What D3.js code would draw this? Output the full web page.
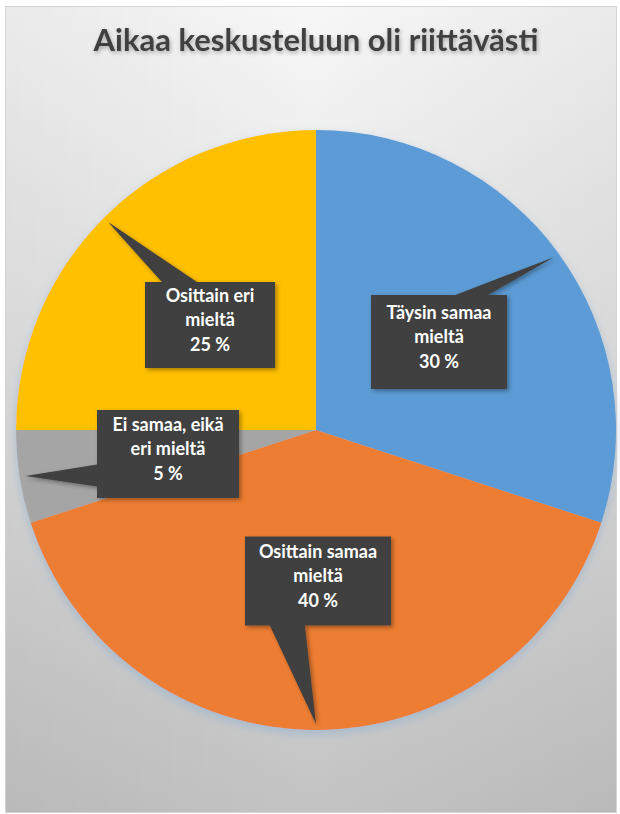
<!DOCTYPE html>
<html>
<head>
<meta charset="utf-8">
<script src="https://cdn.jsdelivr.net/npm/d3@7"></script>
<style>
  html, body { margin: 0; padding: 0; background: #fff; }
  svg { display: block; }
</style>
</head>
<body>
<svg id="chart"></svg>
<script>
// data
let title = "Aikaa keskusteluun oli riittävästi";
let categories = ["Täysin samaa mieltä", "Osittain samaa mieltä", "Ei samaa, eikä eri mieltä", "Osittain eri mieltä"];
let values = [30, 40, 5, 25];
let labelLines = [
  ["Täysin samaa", "mieltä"],
  ["Osittain samaa", "mieltä"],
  ["Ei samaa, eikä", "eri mieltä"],
  ["Osittain eri", "mieltä"]
];
let colors = ["#5B9BD5", "#ED7D31", "#A5A5A5", "#FFC000"];

// layout
let width = 620, height = 814;
let cx = 316, cy = 430, radius = 300;
// callout boxes: offset of box centre from pie centre, size, pointer edge and base span (0..1 along edge)
let callouts = [
  { dx: 123, dy: -88, w: 136, h: 94, edge: "top", b0: 0.62, b1: 0.86 },
  { dx: 2, dy: 151, w: 146, h: 89, edge: "bottom", b0: 0.17, b1: 0.41 },
  { dx: -148, dy: 24, w: 142, h: 88, edge: "left", b0: 0.62, b1: 0.87 },
  { dx: -106, dy: -105, w: 130, h: 86, edge: "top", b0: 0.13, b1: 0.40 }
];

let svg = d3.select("#chart")
  .attr("width", width)
  .attr("height", height);

let defs = svg.append("defs");
let bg = defs.append("linearGradient")
  .attr("id", "bg")
  .attr("x1", 0).attr("y1", 0).attr("x2", 0).attr("y2", 1);
bg.append("stop").attr("offset", "0%").attr("stop-color", "#f7f7f7");
bg.append("stop").attr("offset", "45%").attr("stop-color", "#e2e2e2");
bg.append("stop").attr("offset", "100%").attr("stop-color", "#c3c3c3");

let side = defs.append("linearGradient")
  .attr("id", "side")
  .attr("x1", 0).attr("y1", 0).attr("x2", 1).attr("y2", 0);
side.append("stop").attr("offset", "0%").attr("stop-color", "#000").attr("stop-opacity", 0.05);
side.append("stop").attr("offset", "50%").attr("stop-color", "#000").attr("stop-opacity", 0);
side.append("stop").attr("offset", "100%").attr("stop-color", "#000").attr("stop-opacity", 0.05);

let glow = defs.append("filter").attr("id", "glow")
  .attr("x", "-10%").attr("y", "-10%").attr("width", "120%").attr("height", "120%");
glow.append("feDropShadow")
  .attr("dx", 0).attr("dy", 4).attr("stdDeviation", 5)
  .attr("flood-color", "#8fb0d0").attr("flood-opacity", 0.6);

let boxShadow = defs.append("filter").attr("id", "boxShadow")
  .attr("x", "-20%").attr("y", "-20%").attr("width", "140%").attr("height", "140%");
boxShadow.append("feDropShadow")
  .attr("dx", 2).attr("dy", 2).attr("stdDeviation", 2)
  .attr("flood-color", "#000").attr("flood-opacity", 0.35);

let textShadow = defs.append("filter").attr("id", "textShadow")
  .attr("x", "-5%").attr("y", "-20%").attr("width", "110%").attr("height", "140%");
textShadow.append("feDropShadow")
  .attr("dx", 1).attr("dy", 2).attr("stdDeviation", 2)
  .attr("flood-color", "#000").attr("flood-opacity", 0.3);

// chart area
svg.append("rect")
  .attr("x", 5.5).attr("y", 6.5)
  .attr("width", 611).attr("height", 806)
  .attr("fill", "url(#bg)")
  .attr("stroke", "#d4d4d4");
svg.append("rect")
  .attr("x", 6).attr("y", 7)
  .attr("width", 610).attr("height", 805)
  .attr("fill", "url(#side)");

svg.append("text")
  .attr("x", cx)
  .attr("y", 51)
  .attr("text-anchor", "middle")
  .attr("font-family", "Lato, 'Open Sans', sans-serif")
  .attr("font-weight", "bold")
  .attr("font-size", 31)
  .attr("fill", "#3f3f3f")
  .attr("filter", "url(#textShadow)")
  .text(title);

let pie = d3.pie().sort(null).value(d => d);
let arcs = pie(values);
let arc = d3.arc().innerRadius(0).outerRadius(radius);
let tipArc = d3.arc().innerRadius(radius * 0.97).outerRadius(radius * 0.99);

let g = svg.append("g")
  .attr("transform", "translate(" + cx + "," + cy + ")");

g.append("g")
  .attr("filter", "url(#glow)")
  .selectAll("path")
  .data(arcs)
  .enter().append("path")
  .attr("d", arc)
  .attr("fill", (d, i) => colors[i]);

// callouts
function calloutPath(c, tip) {
  let x0 = c.dx - c.w / 2, x1 = c.dx + c.w / 2;
  let y0 = c.dy - c.h / 2, y1 = c.dy + c.h / 2;
  let pts = [];
  if (c.edge === "top") {
    pts = [[x0, y0], [x0 + c.w * c.b0, y0], tip, [x0 + c.w * c.b1, y0], [x1, y0], [x1, y1], [x0, y1]];
  } else if (c.edge === "bottom") {
    pts = [[x0, y0], [x1, y0], [x1, y1], [x0 + c.w * c.b1, y1], tip, [x0 + c.w * c.b0, y1], [x0, y1]];
  } else if (c.edge === "left") {
    pts = [[x0, y0], [x1, y0], [x1, y1], [x0, y1], [x0, y0 + c.h * c.b1], tip, [x0, y0 + c.h * c.b0]];
  } else {
    pts = [[x0, y0], [x1, y0], [x1, y0 + c.h * c.b0], tip, [x1, y0 + c.h * c.b1], [x1, y1], [x0, y1]];
  }
  return "M" + pts.map(p => p.join(",")).join("L") + "Z";
}

let labels = g.selectAll(".callout")
  .data(arcs)
  .enter().append("g")
  .attr("class", "callout");

labels.append("path")
  .attr("d", (d, i) => calloutPath(callouts[i], tipArc.centroid(d)))
  .attr("fill", "#404040")
  .attr("filter", "url(#boxShadow)");

let lineH = 24.5;
labels.each(function(d, i) {
  let c = callouts[i];
  let lines = labelLines[i].concat([d.data + " %"]);
  let t = d3.select(this).append("text")
    .attr("text-anchor", "middle")
    .attr("font-family", "Lato, 'Open Sans', sans-serif")
    .attr("font-weight", "bold")
    .attr("font-size", 18)
    .attr("fill", "#ffffff");
  lines.forEach((s, k) => {
    t.append("tspan")
      .attr("x", c.dx)
      .attr("y", c.dy + (k - 1) * lineH + 1)
      .text(s);
  });
});
</script>
</body>
</html>
